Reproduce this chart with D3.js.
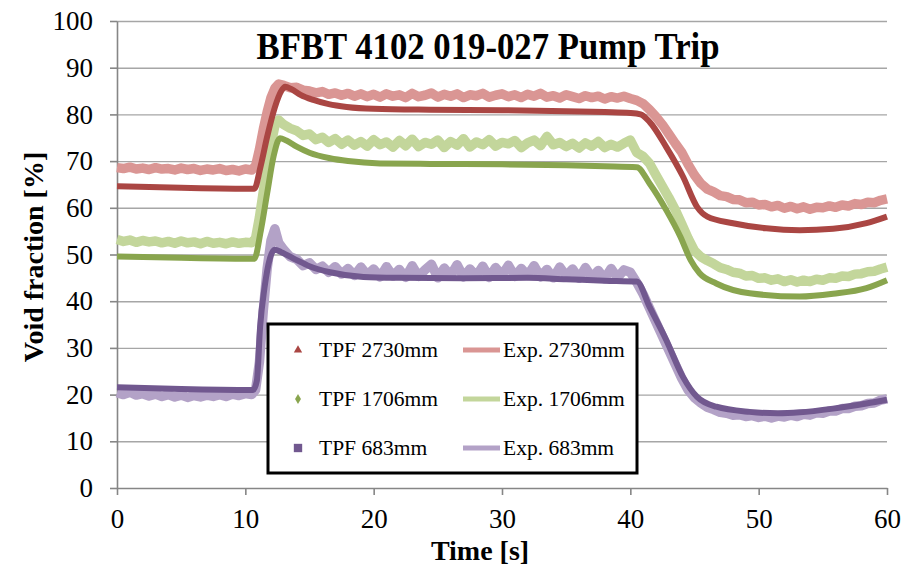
<!DOCTYPE html>
<html>
<head>
<meta charset="utf-8">
<script src="https://cdn.jsdelivr.net/npm/d3@7"></script>
<style>
body { margin: 0; background: #fff; }
svg { display: block; }
</style>
</head>
<body>
<svg id="chart"></svg>
<script>
var svg_width = 903, svg_height = 568;
var margin = { top: 21, right: 16, bottom: 80, left: 117 };
var width = svg_width - margin.left - margin.right;
var height = svg_height - margin.top - margin.bottom;

var title = "BFBT 4102 019-027 Pump Trip";
var xTicks = [0, 10, 20, 30, 40, 50, 60];
var yTicks = [0, 10, 20, 30, 40, 50, 60, 70, 80, 90, 100];

// TPF (calculated) series, key points
var tpf2730T = [0, 5, 10.7, 11.2, 11.7, 12.3, 12.8, 13.1, 13.6, 14.3, 15.3, 16.5, 17.9, 20, 24.4, 30, 35, 38, 40, 40.8, 41.5, 42.8, 44.1, 45.2, 46, 48, 50.6, 53.2, 55.8, 58.4, 60];
var tpf2730V = [64.6, 64.3, 64.1, 69, 75.2, 81.5, 85, 85.9, 85.4, 84.2, 83.1, 82.2, 81.6, 81.2, 81, 80.9, 80.7, 80.5, 80.3, 80, 78.4, 73, 66.7, 60.2, 58.1, 56.7, 55.6, 55.2, 55.5, 56.7, 58.1];

var tpf1706T = [0, 5, 10.7, 11.2, 11.7, 12.2, 12.7, 13.2, 14, 15, 16.6, 18, 20.5, 24.4, 30, 35, 38, 40.5, 41.5, 42.8, 43.9, 44.7, 45.4, 46.7, 49.3, 53.2, 55.8, 58.4, 60];
var tpf1706V = [49.6, 49.3, 49.1, 55, 63.1, 71, 74.9, 74.4, 73.1, 71.8, 70.6, 70, 69.5, 69.4, 69.3, 69.1, 68.9, 68.7, 65.2, 59.5, 53.8, 48.8, 46, 43.8, 41.7, 41, 41.6, 42.8, 44.5];

var tpf683T = [0, 5, 10.6, 10.9, 11.15, 11.5, 11.9, 12.3, 12.8, 14, 15, 16.6, 19.2, 22, 27, 32, 35, 38, 40.5, 41.5, 42.8, 44.1, 45.2, 46.7, 49.3, 51.5, 53.2, 55.8, 58.4, 60];
var tpf683V = [21.6, 21.2, 21, 23, 34.5, 43, 49, 51, 50.5, 48.8, 47.5, 46.2, 45.2, 45, 44.9, 45, 44.7, 44.4, 44.2, 38.8, 31.7, 23.8, 19.5, 17.4, 16.3, 16, 16.2, 17, 18.1, 18.9];

// Experimental series, sampled every 0.5 s (denser during the rise)
var expT = [0, 0.5, 1, 1.5, 2, 2.5, 3, 3.5, 4, 4.5, 5, 5.5, 6, 6.5, 7, 7.5, 8, 8.5, 9, 9.5, 10, 10.5,
	10.8, 11.1, 11.4, 11.7, 12, 12.3, 12.6,
	13, 13.5, 14, 14.5, 15, 15.5, 16, 16.5, 17, 17.5, 18, 18.5, 19, 19.5, 20, 20.5, 21, 21.5, 22, 22.5,
	23, 23.5, 24, 24.5, 25, 25.5, 26, 26.5, 27, 27.5, 28, 28.5, 29, 29.5, 30, 30.5, 31, 31.5, 32, 32.5,
	33, 33.5, 34, 34.5, 35, 35.5, 36, 36.5, 37, 37.5, 38, 38.5, 39, 39.5, 40,
	40.5, 41, 41.5, 42, 42.5, 43, 43.5, 44, 44.5, 45, 45.5, 46, 46.5, 47, 47.5, 48, 48.5, 49, 49.5, 50,
	50.5, 51, 51.5, 52, 52.5, 53, 53.5, 54, 54.5, 55, 55.5, 56, 56.5, 57, 57.5, 58, 58.5, 59, 59.5, 60];

var exp2730V = [68.6, 68.4, 68.7, 68.3, 68.5, 68.2, 68.6, 68.3, 68.4, 68.1, 68.5, 68.2, 68.4, 68.0, 68.3, 68.1, 68.4, 68.0, 68.2, 67.9, 68.3, 68.1,
	69.0, 72.5, 76.8, 80.5, 83.6, 85.6, 86.5,
	86.2, 85.7, 85.8, 85.2, 85.0, 84.6, 84.9, 84.3, 84.6, 84.1, 84.5, 83.9, 84.4, 83.8, 84.3, 83.7, 84.4, 83.9, 84.2, 83.6,
	84.5, 83.8, 84.1, 84.6, 83.7, 84.3, 83.9, 84.4, 83.6, 84.2, 84.0, 84.5, 83.7, 84.1, 84.4, 83.8, 84.2, 83.6, 84.3, 83.9,
	84.5, 83.7, 84.0, 83.5, 84.2, 83.8, 83.4, 84.0, 83.6, 83.9, 83.3, 83.8, 83.5, 83.9, 83.4,
	83.0, 82.3, 81.0, 79.5, 77.8, 75.8, 73.8, 71.9, 69.3, 67.0, 65.2, 64.0, 63.4, 62.6, 62.4, 61.8, 61.7, 61.1, 61.2, 60.6,
	60.7, 60.2, 60.5, 59.9, 60.3, 59.8, 60.2, 59.7, 60.1, 60.0, 60.4, 60.1, 60.6, 60.4, 60.9, 60.7, 61.2, 61.1, 61.6, 61.9];

var exp1706V = [53.2, 52.8, 53.1, 52.6, 53.0, 52.7, 52.9, 52.5, 52.8, 52.4, 52.9, 52.5, 52.7, 52.3, 52.8, 52.4, 52.6, 52.3, 52.7, 52.4, 52.6, 52.5,
	53.5, 58.0, 63.5, 68.5, 73.5, 77.5, 78.8,
	77.8, 77.0, 76.5, 75.5, 75.8, 74.6, 75.1, 74.0, 74.8, 73.6, 74.5, 73.4, 74.2, 73.2, 74.6, 73.5, 74.1, 73.0, 74.4, 73.3,
	74.7, 73.1, 74.0, 73.6, 74.5, 72.9, 74.2, 73.4, 74.8, 73.0, 74.1, 73.5, 74.6, 73.2, 74.0, 73.7, 74.4, 72.9, 73.9, 74.5,
	73.3, 75.3, 73.5, 74.0, 73.1, 73.8, 72.8, 73.9, 73.2, 74.2, 72.9, 73.6, 73.0, 73.8, 74.5,
	71.8, 71.0, 69.5, 67.0, 64.6, 62.2, 59.6, 56.6, 53.5, 50.8, 49.5, 48.7, 48.0, 47.2, 46.8, 46.2, 46.0, 45.4, 45.5, 44.9,
	45.0, 44.5, 44.8, 44.2, 44.6, 44.1, 44.5, 44.2, 44.7, 44.5, 45.0, 44.9, 45.4, 45.3, 45.8, 45.9, 46.3, 46.4, 46.9, 47.3];

var exp683V = [20.4, 20.0, 20.5, 19.9, 20.2, 19.7, 20.1, 19.6, 20.0, 19.5, 19.9, 19.4, 19.8, 19.5, 19.9, 19.6, 20.0, 19.6, 20.1, 19.8, 20.2, 20.0,
	21.0, 27.0, 38.0, 47.0, 53.0, 55.5, 52.5,
	51.0, 49.5, 49.0, 47.6, 48.2, 46.8, 47.5, 46.2, 47.4, 45.8, 47.0, 45.5, 47.3, 45.6, 46.9, 45.2, 47.4, 45.4, 46.8, 45.1,
	47.6, 45.3, 46.7, 47.9, 45.0, 47.1, 45.5, 47.8, 45.2, 46.9, 45.4, 47.5, 45.1, 47.2, 45.6, 47.7, 45.3, 47.0, 45.5, 47.6,
	45.2, 46.8, 45.0, 47.3, 45.4, 46.9, 44.9, 47.2, 45.1, 46.6, 44.8, 47.0, 45.0, 46.7, 46.2,
	44.0, 41.5, 38.5, 35.5, 32.5, 29.5, 26.5, 23.5, 21.0, 19.3, 18.2, 17.3, 16.8, 16.2, 16.0, 15.6, 15.7, 15.3, 15.5, 15.1,
	15.4, 15.0, 15.4, 15.2, 15.6, 15.3, 15.8, 15.6, 16.1, 16.0, 16.5, 16.5, 17.0, 17.0, 17.5, 17.6, 18.1, 18.2, 18.8, 19.1];

var expNames = ["Exp. 2730mm", "Exp. 1706mm", "Exp. 683mm"];
var tpfNames = ["TPF 2730mm", "TPF 1706mm", "TPF 683mm"];
var tpfColors = ["#AA4643", "#89A54E", "#71588F"];
var expColors = ["#DA9694", "#C3D69B", "#B3A2C7"];

function zip(t, v) {
	var out = [];
	for (var i = 0; i < t.length; i++) {
		out.push([t[i], v[i]]);
	}
	return out;
}

var expSeries = [zip(expT, exp2730V), zip(expT, exp1706V), zip(expT, exp683V)];
var tpfSeries = [zip(tpf2730T, tpf2730V), zip(tpf1706T, tpf1706V), zip(tpf683T, tpf683V)];

var x = d3.scaleLinear().domain([0, 60]).range([0, width]);
var y = d3.scaleLinear().domain([0, 100]).range([height, 0]);

var svg = d3.select("#chart")
	.attr("width", svg_width)
	.attr("height", svg_height);

var g = svg.append("g")
	.attr("transform", "translate(" + margin.left + "," + margin.top + ")");

// horizontal gridlines
g.append("g")
	.attr("class", "grid")
	.call(d3.axisLeft(y).tickValues(yTicks.slice(1)).tickSize(-width).tickFormat(""))
	.call(function (s) {
		s.select(".domain").remove();
		s.selectAll("line").attr("stroke", "#A6A6A6").attr("stroke-width", 1.4);
	});

var fontSerif = "'Liberation Serif', 'Times New Roman', serif";

// y axis
g.append("g")
	.attr("class", "y_axis")
	.call(d3.axisLeft(y).tickValues(yTicks).tickSize(7).tickSizeOuter(0).tickPadding(17))
	.call(function (s) {
		s.select(".domain").attr("stroke", "#868686").attr("stroke-width", 1.6);
		s.selectAll("line").attr("stroke", "#868686").attr("stroke-width", 1.6);
		s.selectAll("text")
			.attr("fill", "#000")
			.style("font-family", fontSerif)
			.style("font-size", "27px");
	});

// x axis
g.append("g")
	.attr("class", "x_axis")
	.attr("transform", "translate(0," + height + ")")
	.call(d3.axisBottom(x).tickValues(xTicks).tickSize(7).tickSizeOuter(0).tickPadding(14))
	.call(function (s) {
		s.select(".domain").attr("stroke", "#868686").attr("stroke-width", 1.6);
		s.selectAll("line").attr("stroke", "#868686").attr("stroke-width", 1.6);
		s.selectAll("text")
			.attr("fill", "#000")
			.style("font-family", fontSerif)
			.style("font-size", "27px");
	});

var expLine = d3.line()
	.x(function (d) { return x(d[0]); })
	.y(function (d) { return y(d[1]); });

var tpfLine = d3.line()
	.curve(d3.curveMonotoneX)
	.x(function (d) { return x(d[0]); })
	.y(function (d) { return y(d[1]); });

g.selectAll(".exp")
	.data(expSeries)
	.enter().append("path")
	.attr("class", "exp")
	.attr("fill", "none")
	.attr("stroke", function (d, i) { return expColors[i]; })
	.attr("stroke-width", 9.5)
	.attr("stroke-linejoin", "round")
	.attr("d", expLine);

g.selectAll(".tpf")
	.data(tpfSeries)
	.enter().append("path")
	.attr("class", "tpf")
	.attr("fill", "none")
	.attr("stroke", function (d, i) { return tpfColors[i]; })
	.attr("stroke-width", 6)
	.attr("stroke-linejoin", "round")
	.attr("d", tpfLine);

// title
svg.append("text")
	.attr("x", 488)
	.attr("y", 59)
	.attr("text-anchor", "middle")
	.attr("textLength", 463)
	.attr("lengthAdjust", "spacingAndGlyphs")
	.style("font-family", fontSerif)
	.style("font-weight", "bold")
	.style("font-size", "37px")
	.text(title);

// axis titles
svg.append("text")
	.attr("transform", "translate(43,257) rotate(-90)")
	.attr("text-anchor", "middle")
	.style("font-family", fontSerif)
	.style("font-weight", "bold")
	.style("font-size", "28px")
	.text("Void fraction [%]");

svg.append("text")
	.attr("x", 480)
	.attr("y", 560)
	.attr("text-anchor", "middle")
	.style("font-family", fontSerif)
	.style("font-weight", "bold")
	.style("font-size", "28px")
	.text("Time [s]");

// legend
var legend = svg.append("g").attr("transform", "translate(268,324)");
legend.append("rect")
	.attr("width", 369)
	.attr("height", 149)
	.attr("fill", "#fff")
	.attr("stroke", "#000")
	.attr("stroke-width", 3);

var rowY = [26, 75, 124];
var shapes = [d3.symbolTriangle, d3.symbolDiamond, d3.symbolSquare];
var shapeSize = [30, 30, 70];

for (var i = 0; i < 3; i++) {
	legend.append("path")
		.attr("transform", "translate(30," + rowY[i] + ")")
		.attr("d", d3.symbol().type(shapes[i]).size(shapeSize[i])())
		.attr("fill", tpfColors[i]);
	legend.append("text")
		.attr("x", 51)
		.attr("y", rowY[i] + 7)
		.style("font-family", fontSerif)
		.style("font-size", "21.5px")
		.text(tpfNames[i]);
	legend.append("line")
		.attr("x1", 195).attr("x2", 232)
		.attr("y1", rowY[i]).attr("y2", rowY[i])
		.attr("stroke", expColors[i])
		.attr("stroke-width", 5);
	legend.append("text")
		.attr("x", 235)
		.attr("y", rowY[i] + 7)
		.style("font-family", fontSerif)
		.style("font-size", "21.5px")
		.text(expNames[i]);
}
</script>
</body>
</html>
